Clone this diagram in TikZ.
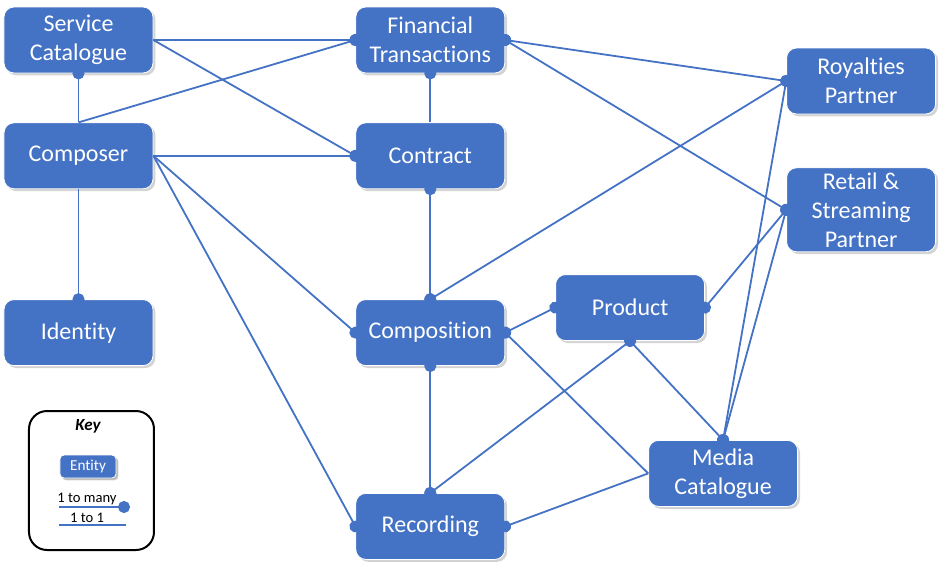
\documentclass[tikz,border=0pt]{standalone}
\usepackage{fontspec}
\setmainfont{Carlito}[Ligatures=NoCommon]
\usetikzlibrary{positioning,arrows.meta,shadows}
\definecolor{officeblue}{HTML}{4472C4}
\tikzset{
  entity/.style   = {draw=white, line width=0.4pt, fill=officeblue, rounded corners=5pt,
                     align=center, text=white, minimum width=74.5pt, minimum height=33pt,
                     font=\fontsize{12}{14.5}\selectfont, inner sep=2pt,
                     drop shadow={opacity=0.35, shadow xshift=1.2pt, shadow yshift=-1.2pt}},
  minientity/.style = {entity, minimum width=28pt, minimum height=11.5pt, rounded corners=2pt,
                     font=\fontsize{7.6}{9}\selectfont,
                     drop shadow={opacity=0.35, shadow xshift=0.8pt, shadow yshift=-0.8pt}},
  link/.style     = {draw=officeblue, line width=0.9pt},
  one/.style      = {link},
  many/.style     = {link, -{Circle[length=6pt]}, shorten >=-3pt},
  manymany/.style = {link, {Circle[length=6pt]}-{Circle[length=6pt]},
                     shorten <=-3pt, shorten >=-3pt},
  keybox/.style   = {draw=black, line width=1pt, rounded corners=9pt, fill=white,
                     minimum width=62.5pt, minimum height=69.5pt},
  keytext/.style  = {font=\fontsize{7.3}{8}\selectfont, inner sep=0pt}
}
\begin{document}
\begin{tikzpicture}
  \useasboundingbox (-39.25pt,20pt) rectangle (435.25pt,-264.5pt);

  % Left column
  \node[entity]                       (SC)   at (0,0) {Service\\Catalogue};
  \node[entity, below=24.5pt of SC]   (Comp) {Composer};
  \node[entity, below=55pt of Comp]   (Id)   {Identity};

  % Middle column
  \node[entity, right=101pt of SC]    (FT)   {Financial\\Transactions};
  \node[entity, below=24.5pt of FT]   (Con)  {Contract};
  \node[entity, below=55pt of Con]    (Cpn)  {Composition};
  \node[entity, below=63.5pt of Cpn]  (Rec)  {Recording};

  % Products and catalogues
  \node[entity, right=25pt of Cpn, yshift=12.5pt] (Prod)  {Product};
  \node[entity, right=71.5pt of Rec, yshift=26.5pt] (Media) {Media\\Catalogue};

  % Partners
  \node[entity, right=140.5pt of FT, yshift=-20.5pt] (Roy) {Royalties\\Partner};
  \node[entity, below=26.5pt of Roy, minimum height=42pt] (Ret) {Retail \&\\Streaming\\Partner};

  % Key
  \node[keybox] (Key) at (6.5pt,-220.25pt) {};
  \node[font=\fontsize{8.5}{10}\selectfont\bfseries\itshape] (KeyT) at (4.75pt,-193pt) {Key};
  \node[minientity] (KeyE) at (4.75pt,-213.25pt) {Entity};
  \node[keytext] (KeyM) at (4.25pt,-229.5pt) {1 to many};
  \node[keytext] (KeyO) at (4.25pt,-239pt) {1 to 1};
  \coordinate (kma) at (-9.75pt,-233.5pt);
  \coordinate (kmb) at (22.75pt,-233.5pt);
  \coordinate (koa) at (-9.75pt,-242.5pt);
  \coordinate (kob) at (23.75pt,-242.5pt);
  \draw[many] (kma) -- (kmb);
  \draw[one]  (koa) -- (kob);

  % Edges
  \draw[many] (Comp.north) -- (SC.south);
  \draw[many] (SC.east) -- (FT.west);
  \draw[many] (SC.east) -- (Con.west);
  \draw[many] (Comp.north) -- (FT.west);
  \draw[many] (Comp.east) -- (Con.west);
  \draw[many] (Comp.east) -- (Cpn.west);
  \draw[many] (Comp.east) -- (Rec.west);
  \draw[many] (Comp.south) -- (Id.north);
  \draw[many] (Con.north) -- (FT.south);

  \draw[manymany] (FT.east) -- (Roy.west);
  \draw[manymany] (FT.east) -- (Ret.west);
  \draw[manymany] (Con.south) -- (Cpn.north);
  \draw[manymany] (Cpn.north) -- (Roy.west);
  \draw[manymany] (Cpn.east) -- (Prod.west);
  \draw[many]     (Media.west) -- (Cpn.east);
  \draw[manymany] (Cpn.south) -- (Rec.north);
  \draw[manymany] (Prod.south) -- (Rec.north);
  \draw[manymany] (Prod.south) -- (Media.north);
  \draw[manymany] (Prod.east) -- (Ret.west);
  \draw[manymany] (Media.north) -- (Roy.west);
  \draw[manymany] (Media.north) -- (Ret.west);
  \draw[many]     (Media.west) -- (Rec.east);

\end{tikzpicture}
\end{document}
